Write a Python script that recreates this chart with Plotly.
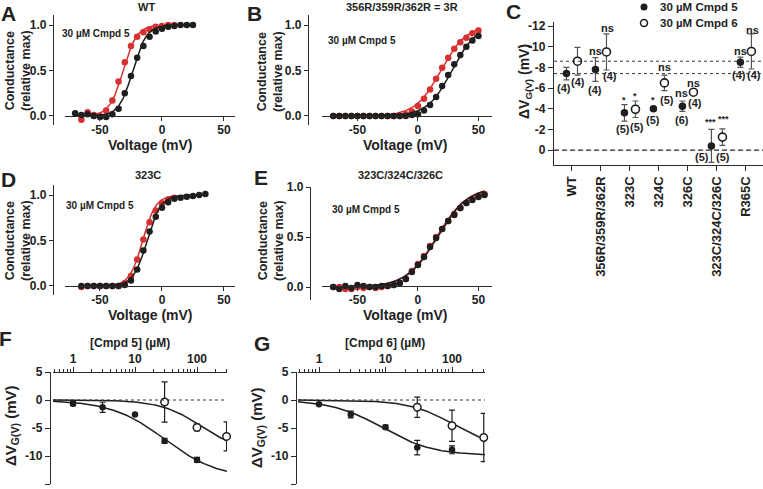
import numpy as np
import plotly.graph_objects as go

W, H = 763, 489
FONT = "Liberation Sans, Arial, sans-serif"
INK = "#222222"
RED = "#d8302f"
DARK = "#1e1e1e"


def px(x):
    return x / W


def py(y):
    return 1 - y / H


# ---------------- data ----------------
# Panel A (WT)
A_V_ctrl = [-70, -65, -60, -55, -50, -45, -40, -35, -30, -25, -20, -15, -10, -5, 0, 5, 10, 15, 20, 25]
A_G_ctrl = [0.03, 0.01, 0.02, 0.0, -0.01, -0.01, 0.02, 0.08, 0.25, 0.44, 0.64, 0.77, 0.87, 0.93, 0.96, 0.98, 0.99, 1.0, 1.0, 1.0]
A_V_drug = [-65, -60, -55, -50, -45, -40, -35, -30, -25, -20, -15, -10, -5, 0, 5, 10]
A_G_drug = [-0.04, 0.04, 0.01, 0.0, 0.06, 0.17, 0.38, 0.59, 0.77, 0.87, 0.92, 0.95, 0.98, 0.99, 1.0, 1.0]
A_fit_ctrl = (-23.5, 5.5)
A_fit_drug = (-31.3, 5.5)

# Panel B (356R/359R/362R = 3R)
B_V = [-70, -65, -60, -55, -50, -45, -40, -35, -30, -25, -20, -15, -10, -5, 0, 5, 10, 15, 20, 25, 30, 35, 40, 45, 50]
B_G_ctrl = [0.0, 0.0, 0.0, 0.0, 0.0, 0.0, 0.0, 0.0, 0.0, 0.0, 0.0, 0.0, 0.0, 0.01, 0.02, 0.06, 0.12, 0.21, 0.33, 0.45, 0.57, 0.67, 0.76, 0.83, 0.88]
B_G_drug = [0.0, 0.0, 0.0, 0.0, 0.0, 0.0, 0.0, 0.0, 0.0, 0.0, 0.0, 0.0, 0.02, 0.05, 0.11, 0.19, 0.29, 0.41, 0.53, 0.64, 0.74, 0.81, 0.86, 0.91, 0.94]
B_fit_ctrl = (28.0, 10.0)
B_fit_drug = (19.0, 10.5)

# Panel D (323C)
D_V_ctrl = [-65, -60, -55, -50, -45, -40, -35, -30, -25, -20, -15, -10, -5, 0, 5, 10, 15, 20, 25, 30, 35]
D_G_ctrl = [0.0, 0.0, 0.0, 0.0, 0.0, 0.0, 0.0, 0.01, 0.06, 0.18, 0.39, 0.60, 0.76, 0.86, 0.92, 0.96, 0.97, 0.98, 0.99, 1.0, 1.01]
D_V_drug = [-65, -60, -55, -50, -45, -40, -35, -30, -25, -20, -15, -10, -5, 0, 5, 10]
D_G_drug = [-0.01, 0.0, 0.0, 0.0, 0.0, 0.0, 0.0, 0.03, 0.11, 0.29, 0.51, 0.70, 0.83, 0.91, 0.95, 0.97]
D_fit_ctrl = (-12.0, 5.5)
D_fit_drug = (-15.5, 5.3)

# Panel E (323C/324C/326C)
E_V = [-70, -65, -60, -55, -50, -45, -40, -35, -30, -25, -20, -15, -10, -5, 0, 5, 10, 15, 20, 25, 30, 35, 40, 45, 50, 55]
E_G_ctrl = [0.0, -0.02, 0.01, -0.01, 0.02, 0.01, 0.0, 0.0, 0.01, 0.01, 0.02, 0.04, 0.08, 0.15, 0.22, 0.30, 0.40, 0.49, 0.58, 0.66, 0.72, 0.79, 0.84, 0.87, 0.90, 0.92]
E_G_drug = [0.0, 0.0, -0.02, -0.02, 0.0, -0.01, 0.0, -0.01, 0.0, 0.01, 0.02, 0.04, 0.08, 0.16, 0.23, 0.31, 0.41, 0.50, 0.58, 0.66, 0.73, 0.79, 0.84, 0.88, 0.91, 0.93]
E_fit_ctrl = (16.0, 12.5)
E_fit_drug = (15.5, 12.5)

# Panel C
C_categories = ["WT", "356R/359R/362R", "323C", "324C", "326C", "323C/324C/326C", "R365C"]
C_series = ["30 \u00b5M Cmpd 5", "30 \u00b5M Cmpd 6"]
C_cmpd5 = [-7.4, -7.8, -3.6, -4.0, -4.25, -0.4, -8.5]
C_cmpd5_err = [0.6, 1.15, 0.8, 0.15, 0.5, 1.6, 0.5]
C_cmpd6 = [-8.6, -9.5, -3.95, -6.5, -5.6, -1.25, -9.55]
C_cmpd6_err = [1.35, 1.75, 0.8, 0.75, 0.15, 0.8, 1.7]
C_cmpd5_sig = ["", "ns", "*", "*", "ns", "***", "ns"]
C_cmpd5_n = ["(4)", "(4)", "(5)", "(5)", "(6)", "(5)", "(4)"]
C_cmpd6_sig = ["", "ns", "*", "ns", "ns", "***", "ns"]
C_cmpd6_n = ["(4)", "(4)", "(5)", "(5)", "(4)", "(5)", "(4)"]
C_y_ticks = [0, -2, -4, -6, -8, -10, -12]

# Panel F ([Cmpd 5])
F_conc_filled = [1, 3, 10, 30, 100]
F_dv_filled = [-0.65, -1.3, -2.6, -7.3, -10.7]
F_err_filled = [0.35, 0.9, 0.15, 0.45, 0.45]
F_conc_open = [30, 100, 300]
F_dv_open = [-0.35, -4.9, -6.5]
F_err_open = [3.6, 0.6, 2.6]
F_fit_filled = (-14.0, 30.0, 1.0)
F_fit_open = (-9.5, 120.0, 1.3)

# Panel G ([Cmpd 6])
G_conc_filled = [1, 3, 10, 30, 100]
G_dv_filled = [-0.75, -2.6, -4.85, -8.5, -8.9]
G_err_filled = [0.2, 0.6, 0.35, 1.3, 0.7]
G_conc_open = [30, 100, 300]
G_dv_open = [-1.3, -4.6, -6.7]
G_err_open = [1.8, 2.8, 4.3]
G_fit_filled = (-9.9, 9.0, 1.15)
G_fit_open = (-8.7, 105.0, 1.3)

FG_y_ticks = [5, 0, -5, -10, -15]
FG_x_ticks = [1, 10, 100]


def boltz(v, vh, k):
    return 1.0 / (1.0 + np.exp((vh - v) / k))


def hill(c, ymax, ec50, n):
    return ymax * c ** n / (c ** n + ec50 ** n)


def lab(v):
    return str(v).replace("\u2212", "-")


fig = go.Figure()

# ---------------- G-V panels ----------------
def add_gv(xa, ya, V, G, fitp, color):
    vv = np.linspace(min(V), max(V), 200)
    fig.add_trace(go.Scatter(x=vv, y=boltz(vv, *fitp), mode="lines",
                             line=dict(color=color, width=1.5),
                             xaxis=xa, yaxis=ya, showlegend=False, hoverinfo="skip"))
    fig.add_trace(go.Scatter(x=V, y=G, mode="markers",
                             marker=dict(color=color, size=6.5, line=dict(width=0)),
                             xaxis=xa, yaxis=ya, showlegend=False, cliponaxis=False))


add_gv("x", "y", A_V_drug, A_G_drug, A_fit_drug, RED)
add_gv("x", "y", A_V_ctrl, A_G_ctrl, A_fit_ctrl, DARK)
add_gv("x2", "y2", B_V, B_G_drug, B_fit_drug, RED)
add_gv("x2", "y2", B_V, B_G_ctrl, B_fit_ctrl, DARK)
add_gv("x4", "y4", D_V_drug, D_G_drug, D_fit_drug, RED)
add_gv("x4", "y4", D_V_ctrl, D_G_ctrl, D_fit_ctrl, DARK)
add_gv("x5", "y5", E_V, E_G_drug, E_fit_drug, RED)
add_gv("x5", "y5", E_V, E_G_ctrl, E_fit_ctrl, DARK)

# ---------------- Panel C ----------------
DODGE = 0.19
xc = np.arange(len(C_categories))
fig.add_trace(go.Scatter(
    x=xc - DODGE, y=C_cmpd5, mode="markers", name=C_series[0],
    marker=dict(color=DARK, size=7.5, line=dict(width=0)),
    error_y=dict(type="data", array=C_cmpd5_err, width=3, thickness=1.2, color="#555"),
    xaxis="x3", yaxis="y3", showlegend=False, cliponaxis=False))
fig.add_trace(go.Scatter(
    x=xc + DODGE, y=C_cmpd6, mode="markers", name=C_series[1],
    marker=dict(color="white", size=8, line=dict(width=1.6, color=DARK)),
    error_y=dict(type="data", array=C_cmpd6_err, width=3, thickness=1.2, color="#555"),
    xaxis="x3", yaxis="y3", showlegend=False, cliponaxis=False))

# ---------------- Panels F, G ----------------
def add_dose(xa, ya, conc_f, dv_f, err_f, fit_f, conc_o, dv_o, err_o, fit_o, lo, hi):
    cc = np.logspace(lo, hi, 200)
    for fp in (fit_o, fit_f):
        fig.add_trace(go.Scatter(x=cc, y=hill(cc, *fp), mode="lines",
                                 line=dict(color=DARK, width=1.5),
                                 xaxis=xa, yaxis=ya, showlegend=False, hoverinfo="skip"))
    fig.add_trace(go.Scatter(x=conc_f, y=dv_f, mode="markers",
                             marker=dict(color=DARK, size=6.5),
                             error_y=dict(type="data", array=err_f, width=3, thickness=1.2, color=DARK),
                             xaxis=xa, yaxis=ya, showlegend=False, cliponaxis=False))
    fig.add_trace(go.Scatter(x=conc_o, y=dv_o, mode="markers",
                             marker=dict(color="white", size=7.5, line=dict(width=1.5, color=DARK)),
                             error_y=dict(type="data", array=err_o, width=3, thickness=1.2, color=DARK),
                             xaxis=xa, yaxis=ya, showlegend=False, cliponaxis=False))


F_range = [-0.323, 2.484]
G_range = [-0.316, 2.496]
add_dose("x6", "y6", F_conc_filled, F_dv_filled, F_err_filled, F_fit_filled,
         F_conc_open, F_dv_open, F_err_open, F_fit_open, *F_range)
add_dose("x7", "y7", G_conc_filled, G_dv_filled, G_err_filled, G_fit_filled,
         G_conc_open, G_dv_open, G_err_open, G_fit_open, *G_range)

# ---------------- axes ----------------
tickfont = dict(family=FONT, size=12, color=INK, weight="bold")
common = dict(showline=True, linecolor="#2b2b2b", linewidth=1.4, ticks="outside",
              ticklen=4, tickwidth=1.3, tickcolor="#2b2b2b", showgrid=False,
              zeroline=False, tickfont=tickfont, fixedrange=True, automargin=False)

volt_ticks = dict(tickvals=[-50, 0, 50], ticktext=["-50", "0", "50"], ticklabelstandoff=-2)
g_ticks = dict(tickvals=[0, 0.5, 1.0], ticktext=["0.0", "0.5", "1.0"])

layout_axes = {}
# A
layout_axes["xaxis"] = dict(common, domain=[px(65), px(235)], range=[-78.2, 58.9],
                            anchor="free", position=py(116), **volt_ticks)
layout_axes["yaxis"] = dict(common, domain=[py(125), py(15)], range=[-0.099, 1.11],
                            anchor="free", position=px(53), **g_ticks)
# B
layout_axes["xaxis2"] = dict(common, domain=[px(322), px(492)], range=[-79.3, 61.2],
                             anchor="free", position=py(116), **volt_ticks)
layout_axes["yaxis2"] = dict(common, domain=[py(125), py(15)], range=[-0.099, 1.11],
                             anchor="free", position=px(308), **g_ticks)
# C
layout_axes["xaxis3"] = dict(common, domain=[px(554), 1.0], range=[-0.62, 6.59],
                             anchor="y3", tickvals=list(xc), ticktext=C_categories,
                             tickangle=-90, ticklen=5,
                             tickfont=dict(family=FONT, size=13, color=INK, weight="bold"))
layout_axes["yaxis3"] = dict(common, domain=[py(165), py(22)], range=[1.45, -12.4],
                             anchor="x3", tickvals=C_y_ticks,
                             ticktext=[lab(v) for v in C_y_ticks], ticklen=5)
# D
layout_axes["xaxis4"] = dict(common, domain=[px(65), px(235)], range=[-78.2, 58.9],
                             anchor="free", position=py(286), **volt_ticks)
layout_axes["yaxis4"] = dict(common, domain=[py(295), py(185)], range=[-0.099, 1.11],
                             anchor="free", position=px(53), **g_ticks)
# E
layout_axes["xaxis5"] = dict(common, domain=[px(322), px(492)], range=[-79.3, 61.2],
                             anchor="free", position=py(286), **volt_ticks)
layout_axes["yaxis5"] = dict(common, domain=[py(300), py(187)], range=[-0.13, 1.0],
                             anchor="free", position=px(310), **g_ticks)
# F, G
log_minor = dict(ticks="outside", ticklen=2.5, tickwidth=1, tickcolor="#2b2b2b", dtick="D1", showgrid=False)
for ax, dom, rng, ypos_x in (("6", [53, 227], F_range, 50), ("7", [298, 485], G_range, 296)):
    layout_axes["xaxis" + ax] = dict(common, type="log", domain=[px(dom[0]), px(dom[1])],
                                     range=rng, side="top", anchor="free", position=py(372),
                                     tickvals=FG_x_ticks, ticktext=[str(v) for v in FG_x_ticks],
                                     minor=log_minor, ticklen=4.5)
    layout_axes["yaxis" + ax] = dict(common, domain=[py(484), py(372)], range=[-15, 5],
                                     anchor="free", position=px(ypos_x), tickvals=FG_y_ticks,
                                     ticktext=[lab(v) for v in FG_y_ticks], ticklen=5)

# ---------------- shapes ----------------
shapes = [
    dict(type="line", xref="x3 domain", yref="y3", x0=0, x1=1, y0=0, y1=0,
         line=dict(color="#222", width=1.3, dash="5px,3px")),
    dict(type="line", xref="x3 domain", yref="y3", x0=0, x1=1, y0=C_cmpd6[0], y1=C_cmpd6[0],
         line=dict(color="#333", width=1, dash="dot")),
    dict(type="line", xref="x3 domain", yref="y3", x0=0, x1=1, y0=C_cmpd5[0], y1=C_cmpd5[0],
         line=dict(color="#333", width=1, dash="dot")),
    dict(type="line", xref="x6 domain", yref="y6", x0=0, x1=1, y0=0, y1=0,
         line=dict(color="#333", width=1.2, dash="dot")),
    dict(type="line", xref="x7 domain", yref="y7", x0=0, x1=1, y0=0, y1=0,
         line=dict(color="#333", width=1.2, dash="dot")),
    # legend symbols for panel C
    dict(type="circle", xref="paper", yref="paper", x0=px(640.5), x1=px(647.5),
         y0=py(10.5), y1=py(3.5), fillcolor=DARK, line=dict(width=0)),
    dict(type="circle", xref="paper", yref="paper", x0=px(640.5), x1=px(647.5),
         y0=py(26.5), y1=py(19.5), fillcolor="white", line=dict(width=1.5, color=DARK)),
]

# ---------------- annotations ----------------
ann = []


def text(x, y, s, size, angle=0, xanchor="center", weight="bold"):
    ann.append(dict(x=px(x), y=py(y), xref="paper", yref="paper", text=s, showarrow=False,
                    textangle=angle, xanchor=xanchor, yanchor="middle",
                    font=dict(family=FONT, size=size, color=INK, weight=weight)))


# panel letters
for L, x, y in (("A", 8, 13), ("B", 255, 13), ("C", 513, 11), ("D", 8, 179),
                ("E", 261, 177), ("F", 6, 338), ("G", 262, 343)):
    text(x, y, L, 21)

# panel titles
text(146, 7, "WT", 11)
text(402, 7, "356R/359R/362R = 3R", 11)
text(148, 175, "323C", 11)
text(400, 175, "323C/324C/326C", 11)

# drug labels
text(96, 33, "30 \u00b5M Cmpd 5", 10)
text(362, 40, "30 \u00b5M Cmpd 5", 10)
text(100, 205, "30 \u00b5M Cmpd 5", 10)
text(366, 210, "30 \u00b5M Cmpd 5", 10)

# conductance axis titles
for x, y in ((18, 71), (270, 72), (18, 241), (271, 241)):
    text(x, y, "Conductance<br>(relative max)", 12.5, angle=-90)
# voltage axis titles
for x, y in ((150, 145), (405, 145), (150, 315), (405, 315)):
    text(x, y, "Voltage (mV)", 14)

# delta V titles
text(525, 82, "\u0394V<sub>G(V)</sub> (mV)", 14, angle=-90)
text(11, 426, "\u0394V<sub>G(V)</sub> (mV)", 15, angle=-90)
text(257, 428, "\u0394V<sub>G(V)</sub> (mV)", 15, angle=-90)

# concentration axis titles
text(130, 343, "[Cmpd 5] (\u00b5M)", 12)
text(385, 343, "[Cmpd 6] (\u00b5M)", 12)

# panel C legend text
text(658, 7, C_series[0], 11.5, xanchor="left")
text(658, 23, C_series[1], 11.5, xanchor="left")

# panel C significance / n labels (pixel offsets from each point)
C5_sig_off = [(0, 0), (0, -18), (0, -13), (0, -9), (-1, -13), (-1, -24), (0, -11)]
C5_n_off = [(-2, 14), (0, 21), (-1, 16), (0, 11), (0, 14), (-9, 11), (-1, 13)]
C6_sig_off = [(0, 0), (1, -24), (0, -13), (0, -16), (0, -9), (1, -18), (1, -21)]
C6_n_off = [(1, 21), (4, 24), (2, 18), (3, 17), (2, 11), (1, 20), (3, 24)]


def c_label(xv, yv, s, off, size):
    if not s:
        return
    ann.append(dict(x=xv, y=yv, xref="x3", yref="y3", text=s, showarrow=False,
                    xanchor="center", yanchor="middle", xshift=off[0], yshift=-off[1],
                    font=dict(family=FONT, size=size, color=INK, weight="bold")))


for i in range(len(C_categories)):
    for sig, n, off_s, off_n, vals, sgn in (
            (C_cmpd5_sig, C_cmpd5_n, C5_sig_off, C5_n_off, C_cmpd5, -1),
            (C_cmpd6_sig, C_cmpd6_n, C6_sig_off, C6_n_off, C_cmpd6, 1)):
        xv = i + sgn * DODGE
        s = sig[i]
        c_label(xv, vals[i], s, off_s[i], 9 if "*" in s else 11)
        c_label(xv, vals[i], n[i], off_n[i], 11)

fig.update_layout(
    width=W, height=H, margin=dict(l=0, r=0, t=0, b=0, pad=0, autoexpand=False),
    paper_bgcolor="white", plot_bgcolor="white",
    font=dict(family=FONT, color=INK),
    showlegend=False,
    shapes=shapes, annotations=ann, **layout_axes)

fig.write_html("out.html", config={"displayModeBar": False},
               post_script="document.body.style.margin='0px';")
